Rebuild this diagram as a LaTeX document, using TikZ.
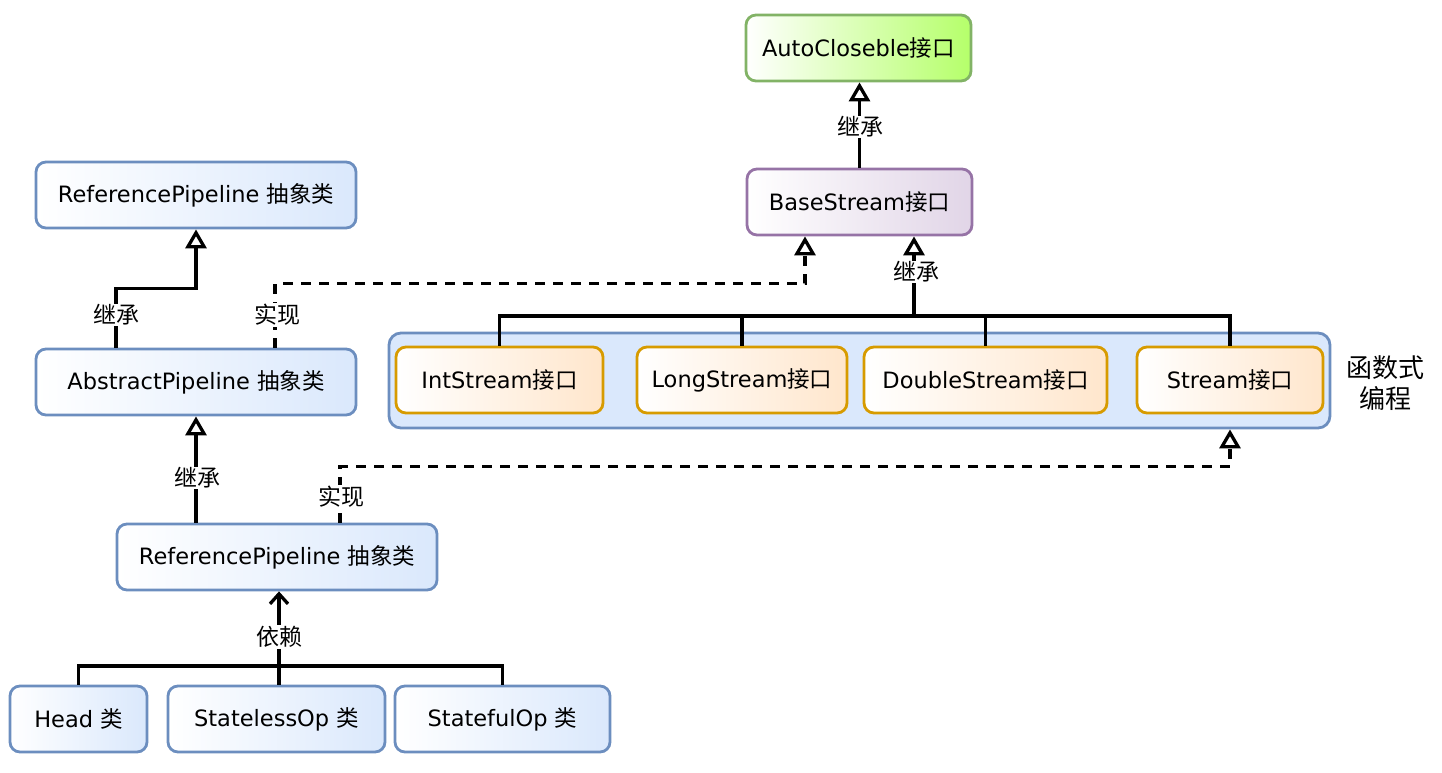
\documentclass[tikz,border=0pt]{standalone}
\usepackage{fontspec}
\setmainfont{DejaVu Sans}
\newfontfamily\cjk{Noto Sans CJK SC}
\usetikzlibrary{arrows.meta}
\definecolor{bluebd}{HTML}{6C8EBF}
\definecolor{bluefl}{HTML}{DAE8FC}
\definecolor{orgbd}{HTML}{D79B00}
\definecolor{orgfl}{HTML}{FFE6CC}
\definecolor{purbd}{HTML}{9673A6}
\definecolor{purfl}{HTML}{E1D5E7}
\definecolor{grnbd}{HTML}{82B366}
\definecolor{grnfl}{HTML}{B5FF6A}
\begin{document}
\begin{tikzpicture}[x=1pt,y=-1pt,
  box/.style={rounded corners=10pt, line width=2.8pt, minimum height=66pt, inner sep=0pt,
    font=\fontsize{22.5}{26}\selectfont},
  bluebox/.style={box, draw=bluebd, left color=white, right color=bluefl},
  orgbox/.style={box, draw=orgbd, left color=white, right color=orgfl},
  lbl/.style={fill=white, inner sep=1pt, font=\cjk\fontsize{23}{26}\selectfont},
  conn/.style={line width=3.3pt},
  inh/.style={conn, -{Triangle[open, length=19pt, width=21pt, line width=3.3pt]}},
  impl/.style={inh, dash pattern=on 10pt off 8pt},
  dep/.style={conn, -{Straight Barb[length=10pt, width=18pt, line width=3.3pt]}},
]
\useasboundingbox (0,0) rectangle (1442,772);

% group container
\node[rounded corners=12pt, line width=2.8pt, draw=bluebd, fill=bluefl,
  minimum width=941pt, minimum height=95pt, inner sep=0pt] (grp) at (859.5,380.5) {};
\node[font=\cjk\fontsize{26}{31}\selectfont, align=center, inner sep=0pt] (grplbl) at (1385,383) {函数式\\编程};

% nodes
\node[box, draw=grnbd, left color=white, right color=grnfl, minimum width=225pt] (auto) at (858.5,48) {AutoCloseble{\cjk 接口}};
\node[box, draw=purbd, left color=white, right color=purfl, minimum width=225pt] (base) at (859.5,202) {BaseStream{\cjk 接口}};

\node[orgbox, minimum width=207pt] (int) at (499.5,380) {IntStream{\cjk 接口}};
\node[orgbox, minimum width=210pt] (long) at (742,380) {LongStream{\cjk 接口}};
\node[orgbox, minimum width=243pt] (dbl) at (985.5,380) {DoubleStream{\cjk 接口}};
\node[orgbox, minimum width=186pt] (strm) at (1230,380) {Stream{\cjk 接口}};

\node[bluebox, minimum width=320pt] (rp1) at (196,195) {ReferencePipeline {\cjk 抽象类}};
\node[bluebox, minimum width=320pt] (abs) at (196,382) {AbstractPipeline {\cjk 抽象类}};
\node[bluebox, minimum width=320pt] (rp2) at (277,557) {ReferencePipeline {\cjk 抽象类}};

\node[bluebox, minimum width=137pt] (head) at (78.5,719) {Head {\cjk 类}};
\node[bluebox, minimum width=217pt] (sless) at (276.5,719) {StatelessOp {\cjk 类}};
\node[bluebox, minimum width=215pt] (sful) at (502.5,719) {StatefulOp {\cjk 类}};

% BaseStream -> AutoCloseble
\draw[inh] (base.north) -- (base.north |- auto.south);
\node[lbl] (l1) at (860,127) {继承};

% stream family -> BaseStream
\coordinate (bus) at (914,316);
\draw[conn] (int.north) -- (int.north |- bus) -- (strm.north |- bus) -- (strm.north);
\draw[conn] (long.north) -- (long.north |- bus);
\draw[conn] (dbl.north) -- (dbl.north |- bus);
\draw[inh] (bus) -- (bus |- base.south);
\node[lbl] (l2) at (916,272) {继承};

% AbstractPipeline -> ReferencePipeline (top)
\draw[inh] ([xshift=-80pt]abs.north) -- ++(0,-59) -| (rp1.south);
\node[lbl] (l3) at (116,315) {继承};

% AbstractPipeline implements BaseStream
\draw[impl] ([xshift=79pt]abs.north) -- ++(0,-64) -| ([xshift=-54.5pt]base.south);
\node[lbl] (l4) at (277,315) {实现};

% ReferencePipeline (bottom) -> AbstractPipeline
\draw[inh] (abs.south |- rp2.north) -- (abs.south);
\node[lbl] (l5) at (197,478) {继承};

% ReferencePipeline (bottom) implements Stream
\draw[impl] ([xshift=63pt]rp2.north) -- ++(0,-56) -| (strm.south |- grp.south);
\node[lbl] (l6) at (341,497) {实现};

% dependency
\coordinate (dp) at (279,666);
\draw[conn] (head.north) -- (head.north |- dp) -- (sful.north |- dp) -- (sful.north);
\draw[conn] (sless.north -| dp) -- (dp);
\draw[dep] (dp) -- (dp |- rp2.south);
\node[lbl] (l7) at (279,637) {依赖};
\end{tikzpicture}
\end{document}
